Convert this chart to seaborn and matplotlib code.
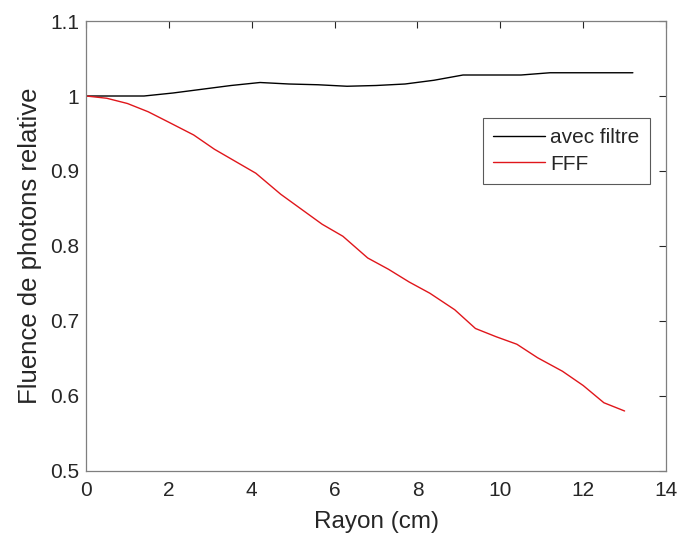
import matplotlib
matplotlib.use("Agg")
import matplotlib.pyplot as plt
import seaborn as sns
import pandas as pd

x_avec = [0, 0.7, 1.4, 2.1, 2.8, 3.5, 4.2, 4.9, 5.6, 6.3, 7.0, 7.7, 8.4, 9.1, 9.8, 10.5, 11.2, 11.9, 12.6, 13.2]
y_avec = [1.0, 1.0, 1.0, 1.004, 1.009, 1.014, 1.018, 1.016, 1.015, 1.013, 1.014, 1.016, 1.021, 1.028, 1.028, 1.028, 1.031, 1.031, 1.031, 1.031]

x_fff = [0, 0.5, 1.0, 1.5, 2.0, 2.6, 3.1, 3.6, 4.1, 4.7, 5.2, 5.7, 6.2, 6.8, 7.3, 7.8, 8.3, 8.9, 9.4, 9.9, 10.4, 10.9, 11.5, 12.0, 12.5, 13.0]
y_fff = [1.0, 0.997, 0.99, 0.979, 0.965, 0.948, 0.929, 0.913, 0.897, 0.869, 0.849, 0.829, 0.813, 0.784, 0.769, 0.752, 0.737, 0.715, 0.690, 0.679, 0.669, 0.651, 0.633, 0.614, 0.591, 0.580]

series_names = ["avec filtre", "FFF"]
x_ticks = [0, 2, 4, 6, 8, 10, 12, 14]
y_ticks = [0.5, 0.6, 0.7, 0.8, 0.9, 1.0, 1.1]
y_tick_labels = ["0.5", "0.6", "0.7", "0.8", "0.9", "1", "1.1"]

sns.set_style("white")
plt.rcParams['font.family'] = ['Liberation Sans', 'DejaVu Sans']

df = pd.concat([
    pd.DataFrame({"x": x_avec, "y": y_avec, "s": series_names[0]}),
    pd.DataFrame({"x": x_fff, "y": y_fff, "s": series_names[1]}),
])

fig = plt.figure(figsize=(6.81, 5.40), dpi=100)
ax = fig.add_axes([0.1263, 0.1278, 0.8517, 0.8333])
sns.lineplot(data=df, x="x", y="y", hue="s", palette=["black", "#e0161b"],
             linewidth=1.0, ax=ax, sort=False)

ax.set_xlim(0, 14)
ax.set_ylim(0.5, 1.1)
ax.set_xticks(x_ticks)
ax.set_yticks(y_ticks)
ax.set_yticklabels(y_tick_labels)
ax.set_xlabel("Rayon (cm)", fontsize=17.5, color="#262626", labelpad=8)
ax.set_ylabel("Fluence de photons relative", fontsize=18.5, color="#262626", labelpad=6)
ax.tick_params(direction="in", top=True, right=True, length=5, width=0.8,
               colors="#262626", labelsize=15)
ax.tick_params(axis="x", pad=7)
ax.tick_params(axis="y", pad=5)
for sp in ax.spines.values():
    sp.set_color("#7f7f7f")
    sp.set_linewidth(0.9)

leg = ax.legend(loc="upper right", bbox_to_anchor=(0.9724, 0.7844), fontsize=15,
                frameon=True, fancybox=False, edgecolor="#303030",
                handlelength=2.5, borderpad=0.5, labelspacing=0.35, handletextpad=0.25,
                borderaxespad=0)
leg.get_frame().set_linewidth(0.8)
leg.set_title(None)

fig.savefig("out.png", dpi=100)
